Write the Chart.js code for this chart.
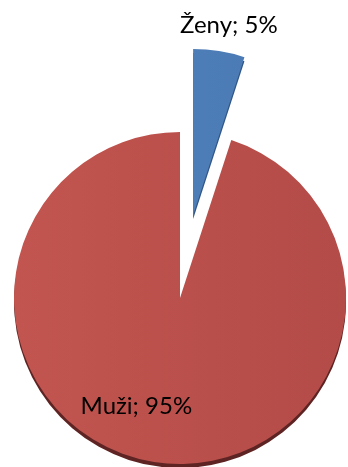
<!DOCTYPE html>
<html>
<head>
<meta charset="utf-8">
<script src="https://cdn.jsdelivr.net/npm/chart.js@4/dist/chart.umd.min.js"></script>
<style>
  html, body { margin: 0; padding: 0; background: #ffffff; }
  #wrap { width: 348px; height: 467px; }
</style>
</head>
<body>
<div id="wrap"><canvas id="c" width="348" height="467"></canvas></div>
<script>
// Podíl žen a mužů
const categories = ['Ženy', 'Muži'];
const shares = [5, 95];
const sliceLabels = ['Ženy; 5%', 'Muži; 95%'];

const faceColors = [['#5586C0', '#4776B0'], ['#C2554F', '#B34B48']];
const rimColors = ['#2F5686', '#5E2423'];
// how far each slice is pulled out from the centre, in pixels
const explode = [84, 0];

// pull exploded slices outward along their middle angle
const explodePlugin = {
  id: 'explode',
  afterDatasetUpdate(chart, args) {
    const meta = chart.getDatasetMeta(args.index);
    meta.data.forEach((arc, i) => {
      const d = explode[i] || 0;
      if (!d) return;
      const mid = (arc.startAngle + arc.endAngle) / 2;
      arc.x += Math.cos(mid) * d;
      arc.y += Math.sin(mid) * d;
    });
  }
};

// darker copy of each slice, shifted down, gives the pie a thin 3D rim
const rimPlugin = {
  id: 'rim',
  beforeDatasetsDraw(chart) {
    const ctx = chart.ctx;
    const meta = chart.getDatasetMeta(0);
    meta.data.forEach((arc, i) => {
      const p = arc.getProps(['x', 'y', 'startAngle', 'endAngle', 'outerRadius'], true);
      ctx.save();
      ctx.fillStyle = rimColors[i];
      ctx.beginPath();
      ctx.moveTo(p.x, p.y + 4);
      ctx.arc(p.x, p.y + 4, p.outerRadius, p.startAngle, p.endAngle);
      ctx.closePath();
      ctx.fill();
      ctx.restore();
    });
  }
};

// category; percentage labels
const labelPlugin = {
  id: 'sliceLabels',
  afterDatasetsDraw(chart) {
    const ctx = chart.ctx;
    const meta = chart.getDatasetMeta(0);
    ctx.save();
    ctx.font = '24px Lato, "Open Sans", sans-serif';
    ctx.fillStyle = '#000000';
    ctx.textAlign = 'center';
    ctx.textBaseline = 'alphabetic';
    meta.data.forEach((arc, i) => {
      const p = arc.getProps(['x', 'y', 'startAngle', 'endAngle', 'outerRadius'], true);
      const mid = (p.startAngle + p.endAngle) / 2;
      let x, y;
      if (i === 0) {
        x = p.x + Math.cos(mid) * (p.outerRadius + 24) + 6;
        y = p.y + Math.sin(mid) * (p.outerRadius + 24) + 6;
      } else {
        x = p.x + Math.cos(mid) * p.outerRadius * 0.68 - 26;
        y = p.y + Math.sin(mid) * p.outerRadius * 0.68 + 5;
      }
      ctx.fillText(sliceLabels[i], x, y);
    });
    ctx.restore();
  }
};

function faceFill(context) {
  const chart = context.chart;
  const area = chart.chartArea;
  const c = faceColors[context.dataIndex];
  if (!area) return c[0];
  const g = chart.ctx.createLinearGradient(area.left, 0, area.right, 0);
  g.addColorStop(0, c[0]);
  g.addColorStop(1, c[1]);
  return g;
}

new Chart(document.getElementById('c'), {
  type: 'pie',
  data: {
    labels: categories,
    datasets: [{
      data: shares,
      backgroundColor: faceFill,
      borderWidth: 0,
      clip: false
    }]
  },
  options: {
    responsive: false,
    animation: false,
    radius: 166,
    layout: { padding: { top: 129, bottom: 0, left: 12, right: 0 } },
    plugins: {
      legend: { display: false },
      tooltip: { enabled: false }
    }
  },
  plugins: [explodePlugin, rimPlugin, labelPlugin]
});
</script>
</body>
</html>
